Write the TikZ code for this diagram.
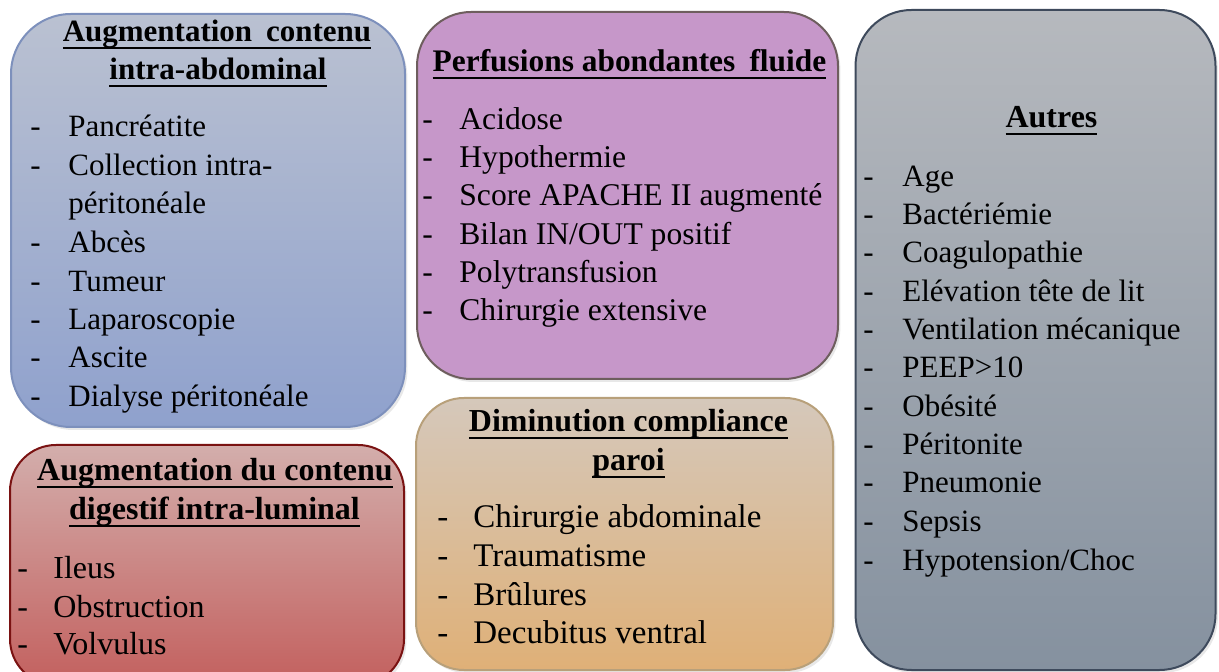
\documentclass[tikz,border=0pt]{standalone}
\usepackage{fontspec}
\setmainfont{Liberation Serif}
\usepackage{graphicx}
\usetikzlibrary{shadows}
\newcommand\ulx[1]{\setbox0\hbox{#1}\leavevmode\rlap{\vrule width\wd0 height -2.6pt depth 3.6pt}\box0}
\definecolor{bluetop}{HTML}{BAC1D1}
\definecolor{bluebot}{HTML}{8FA1CD}
\definecolor{blueedge}{HTML}{7D90BC}
\definecolor{purfill}{HTML}{C697C9}
\definecolor{puredge}{HTML}{6E5E5E}
\definecolor{redtop}{HTML}{D3AEAC}
\definecolor{redbot}{HTML}{C3605E}
\definecolor{rededge}{HTML}{7A1212}
\definecolor{tantop}{HTML}{D5C8BB}
\definecolor{tanbot}{HTML}{DFB077}
\definecolor{tanedge}{HTML}{B8A07A}
\definecolor{greytop}{HTML}{B6B9BE}
\definecolor{greybot}{HTML}{85919F}
\definecolor{greyedge}{HTML}{3E4A5C}
\begin{document}
\begin{tikzpicture}[x=0.5pt,y=-0.5pt,
  panel/.style={draw, line width=1pt, inner sep=0pt,
    drop shadow={opacity=0.18, shadow xshift=1.2pt, shadow yshift=-1.5pt}},
  ttl/.style={anchor=base, inner sep=0pt, font=\bfseries\fontsize{15.5}{18}\selectfont},
  itm/.style={anchor=base west, inner sep=0pt, font=\fontsize{15}{18}\selectfont},
  dsh/.style={anchor=base west, inner sep=0pt, font=\fontsize{15}{18}\selectfont},
]
\useasboundingbox (0,0) rectangle (1219,672);
\begin{scope}
\clip (0,0) rectangle (1219,672);
% panels
\node[panel, draw=blueedge, top color=bluetop, bottom color=bluebot,
  rounded corners=30pt, minimum width=197pt, minimum height=206.5pt] (blue) at (208,220.5) {};
\node[panel, draw=puredge, fill=purfill,
  rounded corners=27pt, minimum width=210.5pt, minimum height=183.5pt] (purple) at (627.5,195.5) {};
\node[panel, draw=greyedge, top color=greytop, bottom color=greybot,
  rounded corners=28pt, minimum width=180pt, minimum height=330pt] (grey) at (1035.5,340) {};
\node[panel, draw=rededge, top color=redtop, bottom color=redbot,
  rounded corners=23pt, minimum width=197pt, minimum height=120pt] (red) at (207,565) {};
\node[panel, draw=tanedge, top color=tantop, bottom color=tanbot,
  rounded corners=24pt, minimum width=208.5pt, minimum height=136pt] (tan) at (624.5,534) {};
\end{scope}

% blue panel text
\node[ttl] (bt1) at (217,42) {\ulx{Augmentation\hspace{0.45em}contenu}};
\node[ttl] (bt2) at (218,80) {\ulx{intra-abdominal}};
\foreach \y/\t [count=\i] in {137/Pancréatite, 176/{Collection intra-}, 253/Abcès, 292/Tumeur, 330/Laparoscopie, 368/Ascite, 407/{Dialyse péritonéale}} {
  \node[dsh, font=\fontsize{15.5}{18}\selectfont] (bd\i) at (30,\y) {-};
  \node[itm, font=\fontsize{15.5}{18}\selectfont] (bi\i) at (68,\y) {\t};
}
\node[itm, font=\fontsize{15.5}{18}\selectfont] (bi2b) at (68,214) {péritonéale};

% purple panel text
\node[ttl, font=\bfseries\fontsize{15.7}{18}\selectfont] (pt1) at (629.5,72) {\ulx{Perfusions abondantes\hspace{0.45em}fluide}};
\foreach \y/\t [count=\i] in {130/Acidose, 168/Hypothermie, 206/{Score APACHE II augmenté}, 245/{Bilan IN/OUT positif}, 283/Polytransfusion, 321/{Chirurgie extensive}} {
  \node[dsh, font=\fontsize{15.8}{18}\selectfont] (pd\i) at (422,\y) {-};
  \node[itm, font=\fontsize{15.8}{18}\selectfont] (pi\i) at (459,\y) {\t};
}

% grey panel text
\node[ttl, font=\bfseries\fontsize{16}{18}\selectfont] (gt1) at (1051.5,128) {\ulx{Autres}};
\foreach \y/\t [count=\i] in {187/Age, 225/Bactériémie, 263/Coagulopathie, 302/{Elévation tête de lit}, 340/{Ventilation mécanique}, 378/{PEEP>10}, 417/Obésité, 455/Péritonite, 493/Pneumonie, 531/Sepsis, 570/{Hypotension/Choc}} {
  \node[dsh, font=\fontsize{15.5}{18}\selectfont] (gd\i) at (863,\y) {-};
  \node[itm, font=\fontsize{15.5}{18}\selectfont] (gi\i) at (902,\y) {\t};
}

% red panel text
\node[ttl, font=\bfseries\fontsize{16}{18}\selectfont] (rt1) at (215,481) {\ulx{Augmentation du contenu}};
\node[ttl, font=\bfseries\fontsize{16}{18}\selectfont] (rt2) at (214.5,520) {\ulx{digestif intra-luminal}};
\foreach \y/\t [count=\i] in {578/Ileus, 617/Obstruction, 654/Volvulus} {
  \node[dsh, font=\fontsize{16}{18}\selectfont] (rd\i) at (17,\y) {-};
  \node[itm, font=\fontsize{16}{18}\selectfont] (ri\i) at (53,\y) {\t};
}

% tan panel text
\node[ttl, font=\bfseries\fontsize{16}{18}\selectfont] (tt1) at (628.5,432) {\ulx{Diminution compliance}};
\node[ttl, font=\bfseries\fontsize{16}{18}\selectfont] (tt2) at (628.5,471) {\ulx{paroi}};
\foreach \y/\t [count=\i] in {528/{Chirurgie abdominale}, 567/Traumatisme, 605/Brûlures, 643/{Decubitus ventral}} {
  \node[dsh, font=\fontsize{16.5}{18}\selectfont] (td\i) at (437,\y) {-};
  \node[itm, font=\fontsize{16.5}{18}\selectfont] (ti\i) at (473,\y) {\t};
}
\end{tikzpicture}
\end{document}
